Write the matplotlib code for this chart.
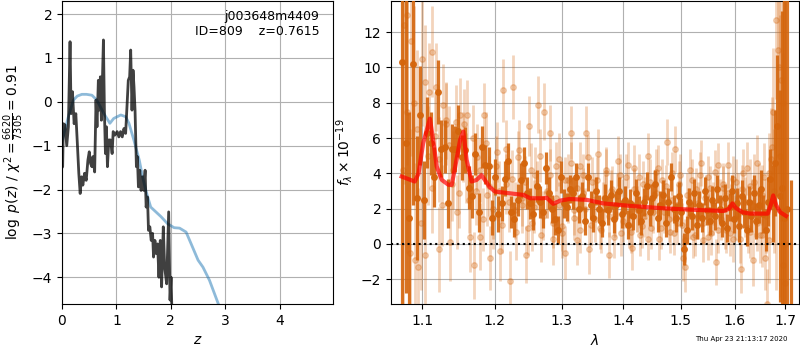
import numpy as np
import matplotlib
matplotlib.use("Agg")
import matplotlib.pyplot as plt
from matplotlib.ticker import FixedLocator, FixedFormatter, NullLocator

# ---------------- left panel: p(z) ----------------
z_pz = [0.00, 0.012, 0.025, 0.056, 0.087, 0.117, 0.148, 0.167, 0.192, 0.223, 0.254,
        0.284, 0.309, 0.334, 0.359, 0.383, 0.414, 0.445, 0.476, 0.501, 0.526,
        0.550, 0.569, 0.600, 0.625, 0.643, 0.668, 0.686, 0.705, 0.724, 0.742,
        0.761, 0.779, 0.798, 0.816, 0.835, 0.860, 0.891, 0.921, 0.940, 0.971,
        1.014, 1.045, 1.076, 1.107, 1.138, 1.169, 1.200, 1.218, 1.243, 1.262,
        1.286, 1.305, 1.323, 1.342, 1.367, 1.385, 1.404, 1.429, 1.453, 1.478,
        1.503, 1.527, 1.546, 1.571, 1.589, 1.614, 1.639, 1.664, 1.682, 1.707,
        1.732, 1.756, 1.781, 1.806, 1.830, 1.861, 1.886, 1.923, 1.960, 1.985,
        2.004, 2.022]
logp_pz = [-1.5, -1.48, -0.5, -0.53, -1.0, -0.57, 1.37, -0.27, 0.23, -0.5, -0.27,
           -1.0, -1.63, -2.09, -1.71, -1.9, -1.63, -1.79, -1.33, -1.14, -1.41,
           -1.48, -1.25, -1.6, 0.04, -0.57, 0.49, -0.19, 0.57, -0.42, 0.46,
           1.41, -0.19, -1.18, -0.57, -1.48, -0.87, -0.87, -1.18, -0.68, -0.76,
           -0.68, -0.8, -0.68, -0.8, -0.61, -0.72, 0.04, 0.49, 0.57, 1.18,
           -0.19, 0.72, 0.34, -0.19, -1.48, -1.25, -1.94, -1.56, -2.02, -1.71,
           -2.02, -1.56, -2.4, -2.17, -2.93, -2.85, -3.16, -3.0, -3.54, -3.16,
           -3.46, -3.24, -4.0, -3.16, -4.22, -2.85, -3.77, -4.15, -2.51, -4.52,
           -4.0, -4.9]

z_prior = [0.0, 0.117, 0.21, 0.28, 0.365, 0.45, 0.55, 0.64, 0.77, 0.88, 0.95,
           1.08, 1.17, 1.23, 1.32, 1.42, 1.48, 1.54, 1.63, 1.82, 1.94, 2.06,
           2.16, 2.28, 2.37, 2.50, 2.59, 2.71, 2.87, 3.0]
logp_prior = [-0.9, -0.34, 0.04, 0.13, 0.17, 0.17, 0.15, 0.04, -0.27, -0.49, -0.38,
              -0.30, -0.34, -0.49, -0.87, -1.33, -1.71, -2.02, -2.40, -2.62, -2.78, -2.87,
              -2.88, -2.97, -3.23, -3.61, -3.77, -4.07, -4.60, -5.0]

# ---------------- right panel: spectrum ----------------
lam_dark = [1.0735, 1.0782, 1.0829, 1.0876, 1.0923, 1.0970, 1.1017, 1.1064, 1.1111, 1.1158,
            1.1205, 1.1252, 1.1299, 1.1346, 1.1393, 1.1440, 1.1487, 1.1534, 1.1581, 1.1628,
            1.1675, 1.1722, 1.1769, 1.1816, 1.1863, 1.1910, 1.1957, 1.2004, 1.2051, 1.2098,
            1.2145, 1.2192, 1.2239, 1.2286, 1.2333, 1.2380, 1.2427, 1.2474, 1.2521, 1.2568,
            1.2615, 1.2662, 1.2709, 1.2756, 1.2803, 1.2850, 1.2897, 1.2944, 1.2991, 1.3038,
            1.3085, 1.3132, 1.3179, 1.3226, 1.3273, 1.3320, 1.3367, 1.3414, 1.3461, 1.3508,
            1.3555, 1.3602, 1.3649, 1.3696, 1.3743, 1.3790, 1.3837, 1.3884, 1.3931, 1.3978,
            1.4025, 1.4072, 1.4119, 1.4166, 1.4213, 1.4260, 1.4307, 1.4354, 1.4401, 1.4448,
            1.4495, 1.4542, 1.4589, 1.4636, 1.4683, 1.4730, 1.4777, 1.4824, 1.4871, 1.4918,
            1.4965, 1.5012, 1.5059, 1.5106, 1.5153, 1.5200, 1.5247, 1.5294, 1.5341, 1.5388,
            1.5435, 1.5482, 1.5529, 1.5576, 1.5623, 1.5670, 1.5717, 1.5764, 1.5811, 1.5858,
            1.5905, 1.5952, 1.5999, 1.6046, 1.6093, 1.6140, 1.6187, 1.6234, 1.6281, 1.6328,
            1.6375, 1.6422, 1.6469, 1.6516, 1.6563, 1.6610, 1.6657, 1.6704, 1.6751, 1.6798,
            1.6845, 1.6892, 1.6939, 1.6986, 1.7040, 1.7130]
flux_dark = [10.3, 5.7, 1.5, 10.2, 2.6, 7.3, 2.5, 6.3, 5.7, 3.8,
             8.6, 5.4, 5.5, 2.3, 5.4, 5.4, 6.4, 4.9, 5.3, 3.2,
             2.7, 5.1, 1.8, 5.5, 4.5, 4.4, 1.5, 3.8, 1.7, 2.3,
             3.7, 4.7, 1.8, 1.4, 2.5, 3.6, 4.6, 2.9, 2.3, 1.7,
             3.3, 2.4, 1.8, 4.3, 2.9, 2.0, 1.4, 0.8, 3.8, 2.3,
             2.1, 3.1, 2.9, 3.8, 2.0, 2.7, 1.3, 3.8, 2.2, 1.5,
             3.0, 2.0, 1.2, 2.6, 1.9, 2.8, 1.4, 2.2, 3.0, 1.7,
             2.5, 1.1, 2.3, 1.6, 2.9, 1.9, 1.3, 2.4, 3.3, 1.8,
             2.6, 3.4, 1.5, 2.2, 2.8, 1.2, 2.4, 3.8, 2.0, 1.5,
             2.7, 1.8, -0.3, 0.8, 2.4, 1.6, 2.9, 1.1, 2.2, 1.5,
             3.0, 1.9, 1.3, 2.5, 1.6, 3.1, 2.0, 1.2, 2.6, 0.9,
             2.1, 3.0, 1.4, 2.3, 1.0, 2.7, 1.8, 0.8, 2.4, 1.6,
             2.9, 1.3, 2.2, 3.1, 1.7, 0.8, 2.4, 3.7, 2.3, 4.6,
             6.7, 2.7, 3.2, 1.5, 2.0, -5.0]
err_dark = [15.0, 8.5, 6.0, 8.0, 3.5, 2.8, 2.2, 2.0, 1.8, 1.7,
            1.8, 1.6, 1.5, 1.4, 1.4, 1.3, 1.5, 1.3, 1.3, 1.2,
            1.2, 1.2, 1.1, 1.2, 1.1, 1.1, 1.0, 1.0, 1.0, 1.0,
            1.0, 1.0, 0.9, 1.0, 0.9, 1.0, 0.9, 0.9, 0.9, 0.9,
            0.9, 0.9, 0.9, 0.9, 0.9, 0.8, 0.9, 0.8, 0.9, 0.8,
            0.8, 0.8, 0.9, 0.8, 0.8, 0.8, 0.8, 0.8, 0.8, 0.8,
            0.8, 0.8, 0.8, 0.8, 0.8, 0.8, 0.8, 0.8, 0.8, 0.8,
            0.8, 0.8, 0.8, 0.8, 0.8, 0.8, 0.8, 0.8, 0.8, 0.8,
            0.8, 0.8, 0.8, 0.8, 0.8, 0.8, 0.8, 0.8, 0.8, 0.8,
            0.8, 0.8, 0.9, 0.8, 0.8, 0.8, 0.8, 0.8, 0.8, 0.8,
            0.8, 0.8, 0.8, 0.8, 0.8, 0.8, 0.8, 0.8, 0.8, 0.8,
            0.8, 0.9, 0.8, 0.9, 0.9, 0.9, 0.9, 0.9, 0.9, 0.9,
            1.0, 1.0, 1.0, 1.1, 1.1, 1.2, 1.4, 1.7, 2.2, 3.0,
            4.0, 6.0, 10.0, 15.0, 30.0, 8.6]

lam_light = [1.0758, 1.0805, 1.0852, 1.0899, 1.0946, 1.0993, 1.1040, 1.1087, 1.1134, 1.1181,
             1.1228, 1.1275, 1.1322, 1.1369, 1.1416, 1.1463, 1.1510, 1.1557, 1.1604, 1.1651,
             1.1698, 1.1745, 1.1792, 1.1839, 1.1886, 1.1933, 1.1980, 1.2027, 1.2074, 1.2121,
             1.2168, 1.2215, 1.2262, 1.2309, 1.2356, 1.2403, 1.2450, 1.2497, 1.2544, 1.2591,
             1.2638, 1.2685, 1.2732, 1.2779, 1.2826, 1.2873, 1.2920, 1.2967, 1.3014, 1.3061,
             1.3108, 1.3155, 1.3202, 1.3249, 1.3296, 1.3343, 1.3390, 1.3437, 1.3484, 1.3531,
             1.3578, 1.3625, 1.3672, 1.3719, 1.3766, 1.3813, 1.3860, 1.3907, 1.3954, 1.4001,
             1.4048, 1.4095, 1.4142, 1.4189, 1.4236, 1.4283, 1.4330, 1.4377, 1.4424, 1.4471,
             1.4518, 1.4565, 1.4612, 1.4659, 1.4706, 1.4753, 1.4800, 1.4847, 1.4894, 1.4941,
             1.4988, 1.5035, 1.5082, 1.5129, 1.5176, 1.5223, 1.5270, 1.5317, 1.5364, 1.5411,
             1.5458, 1.5505, 1.5552, 1.5599, 1.5646, 1.5693, 1.5740, 1.5787, 1.5834, 1.5881,
             1.5928, 1.5975, 1.6022, 1.6069, 1.6116, 1.6163, 1.6210, 1.6257, 1.6304, 1.6351,
             1.6398, 1.6445, 1.6492, 1.6539, 1.6586, 1.6633, 1.6680, 1.6727, 1.6774, 1.6821,
             1.6868, 1.6915, 1.6962, 1.7009]
flux_light = [12.4, 7.5, 11.5, -0.9, -1.3, 10.5, -0.6, 8.6, 10.9, 8.9,
              -0.3, 7.9, 6.8, 0.1, 4.2, 1.8, 7.3, 6.8, 7.3, 0.4,
              -1.2, 4.9, 0.4, 7.3, 2.8, -0.8, 1.5, 5.2, -0.4, 8.7,
              3.4, -2.1, 8.9, 0.7, 5.3, 2.2, -0.6, 6.7, 1.2, 3.9,
              7.9, 0.5, 7.5, 3.0, 6.3, 0.3, 2.6, 4.8, 1.0, -0.5,
              3.6, 6.3, 1.9, 0.2, 4.4, 2.9, 6.3, -0.3, 3.5, 1.4,
              5.1, 0.8, 2.6, 4.0, -0.6, 3.1, 1.7, 4.7, 0.6, 2.4,
              3.8, 1.1, -0.2, 4.3, 2.0, 0.5, 3.4, 1.6, 5.0, 0.9,
              2.8, 4.1, 0.3, 3.6, 1.8, 5.8, 0.7, 2.5, 5.4, 1.2,
              3.9, -0.8, -1.3, 2.0, 4.2, 0.4, 3.1, 1.5, 4.6, 0.2,
              2.7, 3.8, 0.6, 2.3, -1.0, 4.5, 1.4, 3.2, 0.8, 4.5,
              2.1, 0.3, 3.5, 1.7, -1.4, 4.0, 2.4, 0.9, 3.3, -0.9,
              1.9, 4.6, 0.5, 2.8, -0.8, -3.4, 4.0, 5.5, 3.0, 12.7,
              10.0, 9.3, -1.2, -2.2]
err_light = [9.0, 8.0, 6.5, 5.5, 4.5, 3.8, 3.2, 2.8, 2.6, 2.5,
             2.4, 2.3, 2.3, 2.2, 2.2, 2.1, 2.1, 2.0, 2.0, 2.0,
             1.9, 1.9, 1.9, 1.8, 1.8, 1.8, 1.8, 1.7, 1.7, 1.8,
             1.7, 1.7, 1.8, 1.6, 1.7, 1.6, 1.6, 1.7, 1.6, 1.6,
             1.6, 1.5, 1.6, 1.5, 1.6, 1.5, 1.5, 1.5, 1.4, 1.5,
             1.5, 1.5, 1.4, 1.4, 1.4, 1.4, 1.5, 1.4, 1.4, 1.3,
             1.4, 1.3, 1.3, 1.4, 1.3, 1.3, 1.3, 1.4, 1.3, 1.3,
             1.3, 1.3, 1.3, 1.3, 1.3, 1.2, 1.3, 1.2, 1.3, 1.2,
             1.2, 1.3, 1.2, 1.2, 1.2, 1.3, 1.2, 1.2, 1.3, 1.2,
             1.2, 1.3, 1.4, 1.2, 1.2, 1.2, 1.2, 1.2, 1.3, 1.2,
             1.2, 1.2, 1.2, 1.2, 1.3, 1.2, 1.2, 1.2, 1.3, 1.3,
             1.3, 1.3, 1.3, 1.3, 1.4, 1.4, 1.4, 1.4, 1.5, 1.5,
             1.5, 1.6, 1.6, 1.7, 1.8, 2.0, 2.3, 2.8, 3.5, 4.5,
             6.0, 8.0, 12.0, 16.0]

lam_light2 = [1.0747, 1.0794, 1.0841, 1.0888, 1.0935, 1.0982, 1.1029, 1.1076, 1.1123, 1.1170,
              1.1217, 1.1264, 1.1311, 1.1358, 1.1405, 1.1452, 1.1499, 1.1546, 1.1593, 1.1640,
              1.1687, 1.1734, 1.1781, 1.1828, 1.1875, 1.1922, 1.1969, 1.2016, 1.2063, 1.2110,
              1.2157, 1.2204, 1.2251, 1.2298, 1.2345, 1.2392, 1.2439, 1.2486, 1.2533, 1.2580,
              1.2627, 1.2674, 1.2721, 1.2768, 1.2815, 1.2862, 1.2909, 1.2956, 1.3003, 1.3050,
              1.3097, 1.3144, 1.3191, 1.3238, 1.3285, 1.3332, 1.3379, 1.3426, 1.3473, 1.3520,
              1.3567, 1.3614, 1.3661, 1.3708, 1.3755, 1.3802, 1.3849, 1.3896, 1.3943, 1.3990,
              1.4037, 1.4084, 1.4131, 1.4178, 1.4225, 1.4272, 1.4319, 1.4366, 1.4413, 1.4460,
              1.4507, 1.4554, 1.4601, 1.4648, 1.4695, 1.4742, 1.4789, 1.4836, 1.4883, 1.4930,
              1.4977, 1.5024, 1.5071, 1.5118, 1.5165, 1.5212, 1.5259, 1.5306, 1.5353, 1.5400,
              1.5447, 1.5494, 1.5541, 1.5588, 1.5635, 1.5682, 1.5729, 1.5776, 1.5823, 1.5870,
              1.5917, 1.5964, 1.6011, 1.6058, 1.6105, 1.6152, 1.6199, 1.6246, 1.6293, 1.6340,
              1.6387, 1.6434, 1.6481, 1.6528, 1.6575, 1.6622, 1.6669, 1.6716, 1.6763, 1.6810,
              1.6857, 1.6904, 1.6951, 1.6998]
flux_light2 = [4.2, 13.0, -0.5, 8.0, 6.5, 1.2, 9.2, 5.0, 3.2, 6.1,
               4.8, 2.2, 7.0, 5.6, 3.4, 6.9, 2.9, 5.5, 4.3, 2.5,
               6.0, 3.0, 4.2, 1.4, 5.7, 3.3, 2.0, 4.4, 3.0, 1.1,
               5.4, 2.4, 3.7, 1.9, 4.9, 2.6, 3.5, 0.9, 4.2, 2.1,
               3.3, 5.0, 1.6, 2.9, 3.9, 1.2, 4.4, 2.2, 0.6, 3.6,
               2.5, 4.6, 1.5, 3.2, 0.8, 3.9, 2.0, 4.9, 1.1, 2.8,
               3.6, 0.9, 2.3, 4.2, 1.6, 3.0, 0.4, 2.7, 3.9, 1.3,
               2.1, 4.5, 0.7, 3.1, 1.9, 3.8, 1.0, 2.6, 0.3, 3.5,
               1.8, 2.9, 4.3, 0.9, 2.4, 3.3, 1.4, 4.0, 0.6, 2.2,
               3.4, 1.1, 0.2, 2.8, 1.6, 3.6, 0.5, 2.3, 3.9, 1.2,
               2.6, 0.4, 3.2, 1.7, 4.1, 0.8, 2.5, 3.4, 1.0, 2.9,
               0.6, 3.7, 1.5, 2.6, 0.3, 3.1, 1.8, 4.3, 0.7, 2.2,
               3.5, 1.2, 2.9, 0.5, 3.8, 1.6, 0.2, 4.8, 7.5, 2.0,
               11.0, 5.0, 8.0, 0.0]
err_light2 = [10.0, 8.5, 7.0, 5.5, 4.5, 3.8, 3.2, 2.8, 2.6, 2.5,
              2.4, 2.3, 2.2, 2.2, 2.1, 2.1, 2.0, 2.0, 2.0, 1.9,
              1.9, 1.9, 1.8, 1.8, 1.8, 1.7, 1.7, 1.7, 1.7, 1.6,
              1.6, 1.7, 1.6, 1.6, 1.5, 1.6, 1.5, 1.5, 1.5, 1.5,
              1.4, 1.5, 1.4, 1.4, 1.5, 1.4, 1.4, 1.3, 1.4, 1.3,
              1.3, 1.2, 1.3, 1.2, 1.3, 1.2, 1.2, 1.3, 1.2, 1.2,
              1.3, 1.2, 1.2, 1.3, 1.2, 1.2, 1.2, 1.3, 1.2, 1.2,
              1.2, 1.3, 1.2, 1.2, 1.2, 1.3, 1.2, 1.2, 1.2, 1.3,
              1.2, 1.2, 1.3, 1.2, 1.2, 1.2, 1.3, 1.2, 1.2, 1.2,
              1.3, 1.2, 1.2, 1.2, 1.3, 1.2, 1.2, 1.2, 1.3, 1.2,
              1.2, 1.3, 1.2, 1.2, 1.2, 1.3, 1.2, 1.2, 1.3, 1.2,
              1.3, 1.3, 1.3, 1.4, 1.4, 1.4, 1.4, 1.5, 1.5, 1.5,
              1.6, 1.6, 1.7, 1.8, 1.9, 2.1, 2.4, 2.9, 3.6, 4.6,
              6.0, 8.0, 12.0, 16.0]

lam_model = [1.073, 1.090, 1.095, 1.101, 1.110, 1.115, 1.119, 1.126, 1.135, 1.1395,
             1.146, 1.151, 1.1555, 1.160, 1.167, 1.174, 1.181, 1.192, 1.200, 1.222,
             1.242, 1.252, 1.272, 1.277, 1.287, 1.298, 1.313, 1.340, 1.367, 1.411,
             1.469, 1.529, 1.579, 1.590, 1.596, 1.602, 1.615, 1.630, 1.665, 1.671,
             1.676, 1.682, 1.690, 1.702]
flux_model = [3.82, 3.54, 4.0, 5.7, 7.1, 5.7, 4.4, 3.63, 3.35, 3.35,
              4.77, 5.9, 6.37, 4.77, 3.54, 3.63, 3.9, 3.25, 2.97, 2.87,
              2.78, 2.59, 2.59, 2.62, 2.27, 2.46, 2.55, 2.5, 2.3, 2.16,
              2.02, 1.93, 1.87, 2.0, 2.3, 2.05, 1.8, 1.72, 1.72, 2.2,
              2.75, 2.2, 1.8, 1.59]

zticks = [0, 1, 2, 3, 4]
pz_yticks = [-4, -3, -2, -1, 0, 1, 2]
lam_ticks = [1.1, 1.2, 1.3, 1.4, 1.5, 1.6, 1.7]
lam_ticklabels = ["1.1", "1.2", "1.3", "1.4", "1.5", "1.6", "1.7"]
flux_yticks = [-2, 0, 2, 4, 6, 8, 10, 12]

orange = "#d4650c"

fig = plt.figure(figsize=(8, 3.5), dpi=100)
ax1 = fig.add_axes([0.0775, 0.1314, 0.3388, 0.866])
ax2 = fig.add_axes([0.4888, 0.1314, 0.5100, 0.866])

# left
ax1.plot(z_prior, logp_prior, color="tab:blue", alpha=0.5, lw=2)
ax1.plot(z_pz, logp_pz, color="k", alpha=0.75, lw=2)
ax1.set_xlim(0, 4.98)
ax1.set_ylim(-4.61, 2.30)
ax1.set_xticks(zticks)
ax1.set_yticks(pz_yticks)
ax1.grid(True)
ax1.set_xlabel("$z$")
ax1.set_ylabel(r"$\log\ p(z)$ / $\chi^2=\frac{6620}{7305}=0.91$")
ax1.text(0.95, 0.97, "j003648m4409\nID=809    z=0.7615", ha="right", va="top",
         transform=ax1.transAxes, fontsize=9)

# right
ax2.errorbar(lam_light, flux_light, yerr=err_light, fmt="o", color=orange,
             alpha=0.28, ms=4, lw=2, zorder=2)
ax2.errorbar(lam_light2, flux_light2, yerr=err_light2, fmt="o", color=orange,
             alpha=0.28, ms=4, lw=2, zorder=2)
ax2.errorbar(lam_dark, flux_dark, yerr=err_dark, fmt="o", color=orange,
             alpha=0.9, ms=4, lw=2.3, zorder=3)
ax2.plot(lam_model, flux_model, color="r", alpha=0.7, lw=3, zorder=4)
ax2.axhline(0, color="k", ls=":", lw=1.5, zorder=5)
ax2.set_xscale("log")
ax2.set_xlim(1.0594, 1.7288)
ax2.xaxis.set_major_locator(FixedLocator(lam_ticks))
ax2.xaxis.set_major_formatter(FixedFormatter(lam_ticklabels))
ax2.xaxis.set_minor_locator(NullLocator())
ax2.set_ylim(-3.40, 13.77)
ax2.set_yticks(flux_yticks)
ax2.grid(True)
ax2.set_xlabel(r"$\lambda$")
ax2.set_ylabel(r"$f_\lambda\times10^{-19}$")

fig.text(0.985, 0.03, "Thu Apr 23 21:13:17 2020", ha="right", va="center", fontsize=5)

fig.savefig("out.png", dpi=100)
